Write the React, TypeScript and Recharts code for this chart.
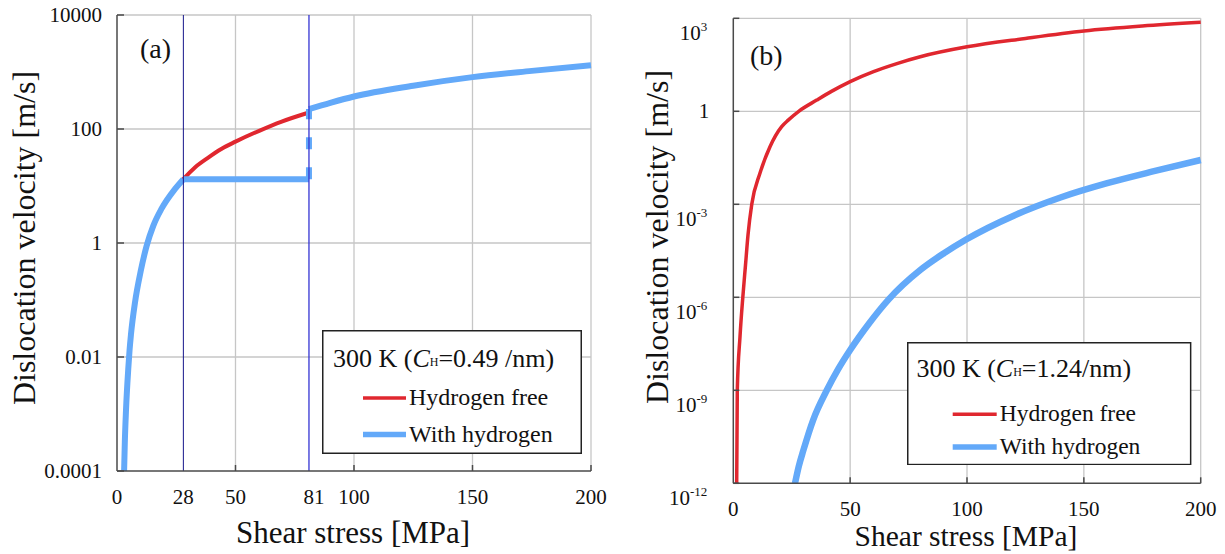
import { LineChart, Line, XAxis, YAxis, CartesianGrid, ReferenceLine, Legend } from "recharts";

const FONT = "Liberation Serif, Tinos, Times New Roman, serif";
const RED = "#e0272f";
const BLUE = "#63a9f9";
const GRID = "#c6c6c6";
const AXIS = "#4a4a4a";
const INK = "#111";

const NAME_FREE = "Hydrogen free";
const NAME_H = "With hydrogen";

// (a) 300 K, C_H = 0.49 /nm
const stressAFree = [3, 3.3, 3.8, 4.8, 5.3, 5.9, 7.6, 10, 12.5, 15.3, 18.8, 24.5, 28, 33, 38.5, 44, 50, 60, 69.5, 81];
const velAFree = [1e-4, 3.2e-4, 1.17e-3, 6.6e-3, 0.0132, 0.025, 0.091, 0.32, 0.89, 2.0, 4.0, 8.9, 13.2, 21.4, 31.6, 44.7, 60, 93, 135, 195];
const stressAHLow = [3, 3.3, 3.8, 4.8, 5.3, 5.9, 7.6, 10, 12.5, 15.3, 18.8, 24.5, 28];
const velAHLow = [1e-4, 3.2e-4, 1.17e-3, 6.6e-3, 0.0132, 0.025, 0.091, 0.32, 0.89, 2.0, 4.0, 8.9, 13.2];
const stressAHFlat = [28, 81];
const velAHFlat = [13.2, 13.2];
const stressAHJump = [81, 81];
const velAHJump = [13.2, 224];
const stressAHHigh = [81, 90, 100, 125, 150, 175, 200];
const velAHHigh = [224, 288, 372, 575, 813, 1047, 1318];
const xTicksA = [0, 28, 50, 81, 100, 150, 200];
const yTicksA = [1e-4, 0.01, 1, 100, 10000];

// (b) 300 K, C_H = 1.24 /nm
const stressBFree = [1.45, 1.71, 2.87, 4.07, 5.22, 6.29, 7.9, 11.4, 15.7, 20.7, 23.5, 28, 35.7, 42, 50, 60, 70, 80, 100, 125, 150, 175, 200];
const velBFree = [1e-12, 1e-9, 5.4e-8, 1e-6, 1.1e-5, 1.02e-4, 1e-3, 0.01, 0.072, 0.32, 0.52, 1, 2.3, 4.4, 9.1, 19.1, 34.7, 57.5, 120, 224, 389, 562, 741];
const stressBH = [26.4, 28, 30, 34.2, 40, 45, 50, 58, 66.3, 80, 90, 100, 120, 140, 160, 180, 200];
const velBH = [1e-12, 3.5e-12, 1.17e-11, 1.12e-10, 1e-9, 5e-9, 2e-8, 1.41e-7, 8.3e-7, 7.6e-6, 2.6e-5, 7.6e-5, 4.3e-4, 1.66e-3, 4.8e-3, 0.0117, 0.0269];
const xTicksB = [0, 50, 100, 150, 200];
const yTicksB = [1e-12, 1e-9, 1e-6, 1e-3, 1, 1e3];

const zip = (t: number[], v: number[]) => t.map((x, i) => ({ t: x, v: v[i] }));

const txt = (size: number) => ({ fontFamily: FONT, fontSize: size, fill: INK });

function makeXTick(marks: number[], shift: Record<number, number>, base: number) {
  return (p: any) => {
    const v = p.payload.value;
    return (
      <g>
        {marks.includes(v) && (
          <line x1={p.x} x2={p.x} y1={p.y} y2={p.y - 6} stroke={AXIS} strokeWidth={1.5} />
        )}
        <text x={p.x + (shift[v] || 0)} y={p.y + base} textAnchor="middle" style={txt(21)}>
          {v}
        </text>
      </g>
    );
  };
}

const yTickA = (p: any) => (
  <g>
    <line x1={p.x} x2={p.x + 7} y1={p.y} y2={p.y} stroke={AXIS} strokeWidth={1.5} />
    <text x={p.x - 15} y={p.y + 7} textAnchor="end" style={txt(21)}>
      {String(p.payload.value)}
    </text>
  </g>
);

const yTickB = (p: any) => {
  const e = Math.round(Math.log10(p.payload.value));
  return (
    <g>
      <line x1={p.x} x2={p.x + 6} y1={p.y} y2={p.y} stroke={AXIS} strokeWidth={1.5} />
      {e === 0 ? (
        <text x={p.x - 24} y={p.y + 7} textAnchor="end" style={txt(21)}>1</text>
      ) : (
        <text x={p.x - 26} y={p.y + 22} textAnchor="end" style={txt(21)}>
          10<tspan dy={-9} style={{ fontSize: 13 }}>{String(e)}</tspan>
        </text>
      )}
    </g>
  );
};

function titles(xc: number, xb: number, yx: number, yc: number, tag: string, tx: number, ty: number, xs: number) {
  return () => (
    <g>
      <text x={xc} y={xb} textAnchor="middle" style={txt(xs)}>Shear stress [MPa]</text>
      <text transform={`translate(${yx},${yc}) rotate(-90)`} textAnchor="middle" style={txt(32)}>
        Dislocation velocity [m/s]
      </text>
      <text x={tx} y={ty} style={txt(28)}>{tag}</text>
    </g>
  );
}

function legendBox(w: number, h: number, conc: string, tx: number, tb: number, lx: number, lx2: number, ly: number[], rx: number, rb: number[], fs: number) {
  return () => (
    <svg width={w} height={h} style={{ display: "block" }}>
      <rect x={0.75} y={0.75} width={w - 1.5} height={h - 1.5} fill="#fff" stroke="#222" strokeWidth={1.5} />
      <text x={tx} y={tb} style={txt(26)}>
        300 K (<tspan style={{ fontStyle: "italic" }}>C</tspan>
        <tspan dy={-1} style={{ fontSize: 12 }}>H</tspan>
        <tspan dy={1}>{conc}</tspan>
      </text>
      <line x1={lx} x2={lx2} y1={ly[0]} y2={ly[0]} stroke={RED} strokeWidth={3.5} />
      <text x={rx} y={rb[0]} style={txt(fs)}>{NAME_FREE}</text>
      <line x1={lx} x2={lx2} y1={ly[1]} y2={ly[1]} stroke={BLUE} strokeWidth={5.5} />
      <text x={rx} y={rb[1]} style={txt(fs)}>{NAME_H}</text>
    </svg>
  );
}

const noDot = { dot: false, activeDot: false, isAnimationActive: false } as const;

export default function App() {
  return (
    <div style={{ position: "absolute", left: 0, top: 0, width: 1225, height: 554, background: "#fff" }}>
      <div style={{ position: "absolute", left: 0, top: 0 }}>
        <LineChart width={612} height={554} margin={{ top: 15, right: 21, bottom: 23, left: 37 }}>
          <CartesianGrid stroke={GRID} strokeWidth={1.3} horizontalValues={[0.01, 1, 100, 10000]} verticalValues={[50, 100, 150, 200]} />
          <XAxis
            dataKey="t"
            type="number"
            domain={[0, 200]}
            ticks={xTicksA}
            interval={0}
            height={60}
            tickSize={0}
            tickMargin={0}
            tickLine={false}
            axisLine={{ stroke: AXIS, strokeWidth: 1.5 }}
            tick={makeXTick([50, 100, 150, 200], { 81: 5 }, 33)}
            label={titles(353, 543, 35, 238, "(a)", 140, 58, 31)}
          />
          <YAxis
            type="number"
            scale="log"
            domain={[1e-4, 1e4]}
            allowDataOverflow
            ticks={yTicksA}
            interval={0}
            width={80}
            tickSize={0}
            tickMargin={0}
            tickLine={false}
            axisLine={{ stroke: AXIS, strokeWidth: 1.5 }}
            tick={yTickA}
          />
          <Line data={zip(stressAFree, velAFree)} dataKey="v" name={NAME_FREE} type="monotone" stroke={RED} strokeWidth={4} {...noDot} />
          <Line data={zip(stressAHLow, velAHLow)} dataKey="v" name={NAME_H} type="monotone" stroke={BLUE} strokeWidth={6} {...noDot} />
          <Line data={zip(stressAHFlat, velAHFlat)} dataKey="v" legendType="none" type="linear" stroke={BLUE} strokeWidth={6} {...noDot} />
          <Line data={zip(stressAHJump, velAHJump)} dataKey="v" legendType="none" type="linear" stroke={BLUE} strokeWidth={6} strokeDasharray="12 18" {...noDot} />
          <Line data={zip(stressAHHigh, velAHHigh)} dataKey="v" legendType="none" type="monotone" stroke={BLUE} strokeWidth={6} {...noDot} />
          <ReferenceLine x={28} stroke="#16168a" strokeWidth={1} />
          <ReferenceLine x={81} stroke="#3434d4" strokeWidth={1.3} />
          <Legend
            layout="horizontal"
            verticalAlign="middle"
            align="center"
            wrapperStyle={{ left: 322, top: 330, width: 260, height: 124 }}
            content={legendBox(260, 124, "=0.49 /nm)", 11, 37, 41, 84, [68, 104.5], 87, [75, 112], 24)}
          />
        </LineChart>
      </div>
      <div style={{ position: "absolute", left: 612, top: 0 }}>
        <LineChart width={613} height={554} margin={{ top: 18.3, right: 24.3, bottom: 20.7, left: 41.3 }}>
          <CartesianGrid stroke={GRID} strokeWidth={1.3} horizontalValues={[1e-9, 1e-6, 1e-3, 1, 1e3]} verticalValues={[50, 100, 150, 200]} />
          <XAxis
            dataKey="t"
            type="number"
            domain={[0, 200]}
            ticks={xTicksB}
            interval={0}
            height={50}
            tickSize={0}
            tickMargin={0}
            tickLine={false}
            axisLine={{ stroke: AXIS, strokeWidth: 1.5 }}
            tick={makeXTick([50, 100, 150, 200], {}, 33)}
            label={titles(354, 546, 56, 237, "(b)", 138, 65, 29.5)}
          />
          <YAxis
            type="number"
            scale="log"
            domain={[1e-12, 1e3]}
            allowDataOverflow
            ticks={yTicksB}
            interval={0}
            width={80}
            tickSize={0}
            tickMargin={0}
            tickLine={false}
            axisLine={{ stroke: AXIS, strokeWidth: 1.5 }}
            tick={yTickB}
          />
          <Line data={zip(stressBFree, velBFree)} dataKey="v" name={NAME_FREE} type="monotone" stroke={RED} strokeWidth={3.5} {...noDot} />
          <Line data={zip(stressBH, velBH)} dataKey="v" name={NAME_H} type="monotone" stroke={BLUE} strokeWidth={6.5} {...noDot} />
          <Legend
            layout="horizontal"
            verticalAlign="middle"
            align="center"
            wrapperStyle={{ left: 295.3, top: 341.7, width: 284.4, height: 123.3 }}
            content={legendBox(284.4, 123.3, "=1.24/nm)", 9.4, 35, 45.7, 89.7, [72.3, 105], 92.7, [79, 111.6], 23.5)}
          />
        </LineChart>
      </div>
    </div>
  );
}
